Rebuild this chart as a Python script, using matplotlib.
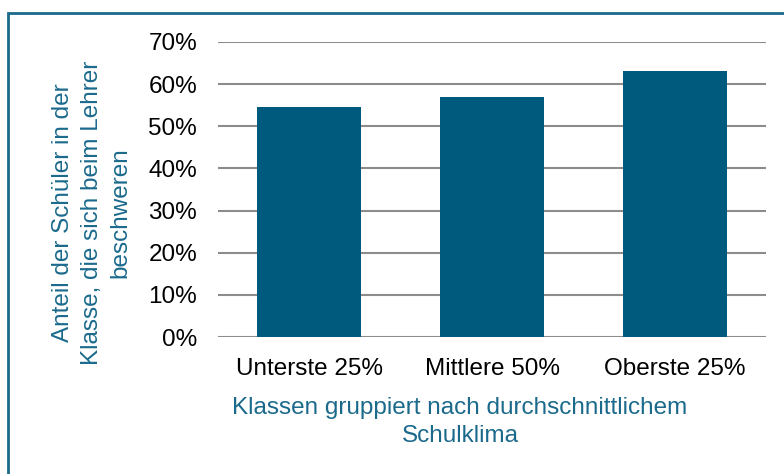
import matplotlib
matplotlib.use("Agg")
import matplotlib.pyplot as plt
from matplotlib.patches import Rectangle

categories = ["Unterste 25%", "Mittlere 50%", "Oberste 25%"]
values = [54.6, 57.0, 63.1]
y_ticks = [0, 10, 20, 30, 40, 50, 60, 70]

bar_color = "#005A7D"
label_color = "#1B6A8C"
grid_color = "#8C8C8C"

plt.rcParams["font.family"] = ["Liberation Sans", "DejaVu Sans"]

fig = plt.figure(figsize=(7.84, 4.74), dpi=100)
ax = fig.add_axes([218 / 784, 1 - 337 / 474, (766 - 218) / 784, (337 - 42) / 474])

ax.bar(range(len(categories)), values, width=0.57, color=bar_color, zorder=3)
ax.set_xlim(-0.5, len(categories) - 0.5)
ax.set_ylim(0, 70)
ax.set_yticks(y_ticks)
ax.set_yticklabels([f"{t}%" for t in y_ticks])
ax.set_xticks(range(len(categories)))
ax.set_xticklabels(categories)
ax.tick_params(axis="both", length=0, labelsize=17.5, colors="black")
ax.tick_params(axis="y", pad=15)
ax.tick_params(axis="x", pad=15)

ax.grid(axis="y", color=grid_color, linewidth=1.5, zorder=0)
for s in ax.spines.values():
    s.set_visible(False)

# axis titles placed in figure coords like the original
fig.text(92 / 784, 1 - 213 / 474,
         "Anteil der Schüler in der\nKlasse, die sich beim Lehrer\nbeschweren",
         rotation=90, ha="center", va="center", multialignment="center",
         fontsize=17.5, color=label_color, linespacing=1.4)
fig.text(460 / 784, 1 - 422 / 474,
         "Klassen gruppiert nach durchschnittlichem\nSchulklima",
         ha="center", va="center", multialignment="center",
         fontsize=17.5, color=label_color, linespacing=1.4)

# frame around the chart, cut off at right and bottom
fig.patches.append(Rectangle((8 / 784, -0.1), 1.2, 1 - 13 / 474 + 0.1,
                             transform=fig.transFigure, fill=False,
                             edgecolor=label_color, linewidth=2))

fig.savefig("out.png", dpi=100)
